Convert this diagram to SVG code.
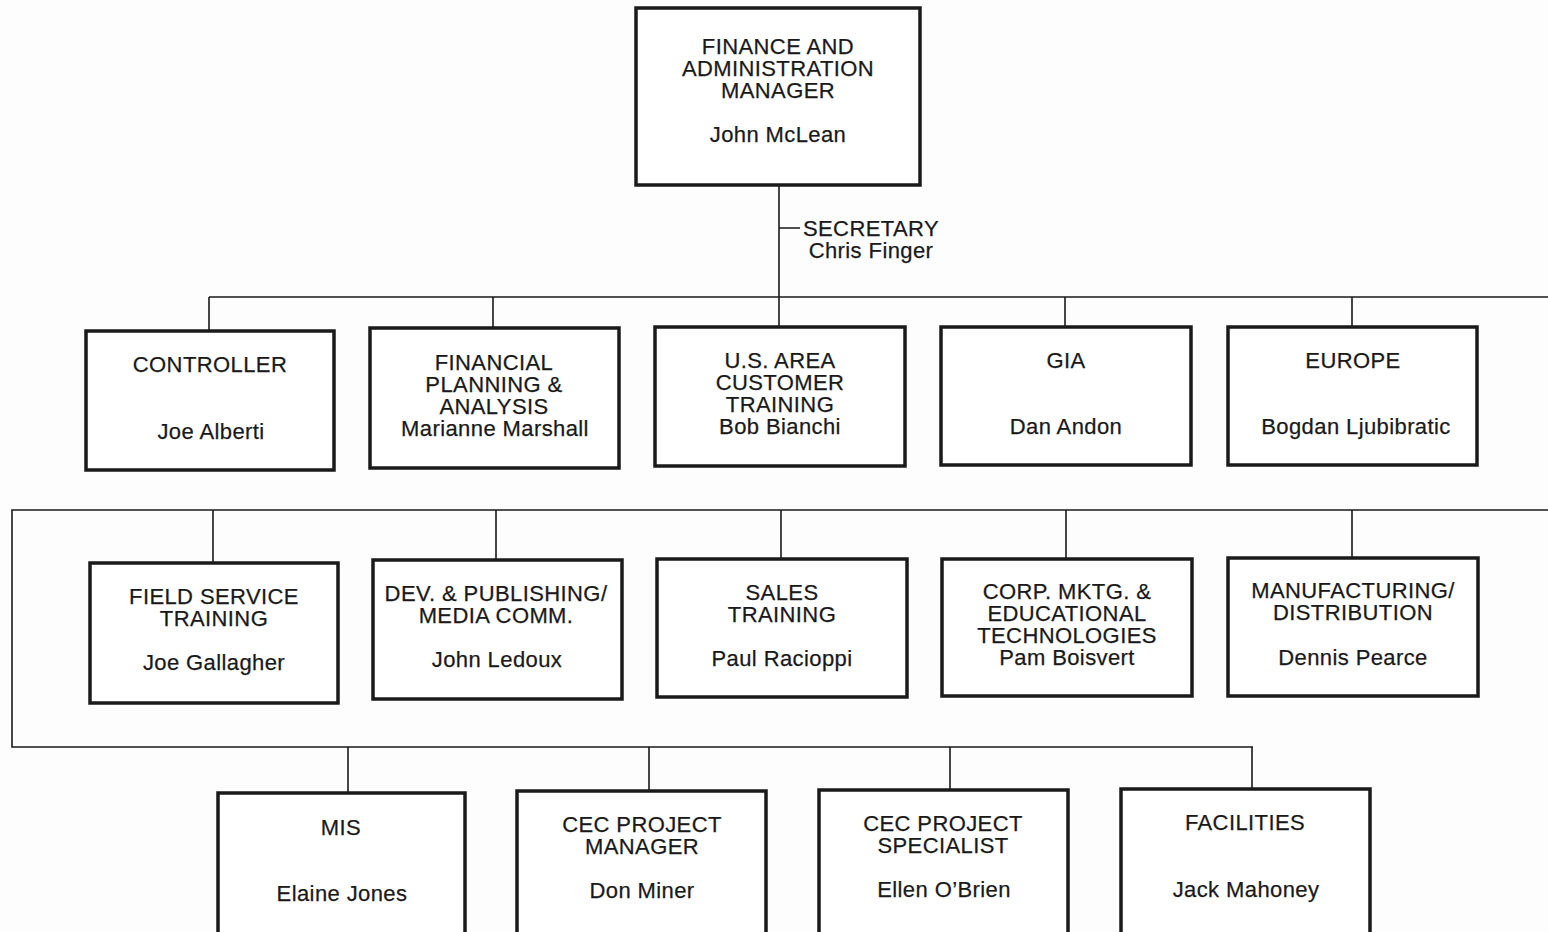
<svg xmlns="http://www.w3.org/2000/svg" width="1548" height="932" viewBox="0 0 1548 932">
<style>
.box{fill:#fff;stroke:#1a1a1a;stroke-width:3.5}
.ln{fill:none;stroke:#1a1a1a;stroke-width:1.6}
text{font-family:"Liberation Sans",Arial,sans-serif;font-size:22px;fill:#1a1a1a;stroke:#1a1a1a;stroke-width:0.25;text-anchor:middle;letter-spacing:0.4px}
</style>
<rect width="1548" height="932" fill="#fdfdfd"/>
<g id="connectors">
<path class="ln" d="M779 185V297 M779 228H800"/>
<path class="ln" d="M209 297H1548 M209 297V331 M493 297V328 M779 297V327 M1065 297V327 M1352 297V327"/>
<path class="ln" d="M1548 510H12V747H1253 M213 510V563 M496 510V560 M781 510V559 M1066 510V559 M1352 510V558"/>
<path class="ln" d="M348 747V793 M649 747V791 M950 747V790 M1252 747V789"/>
</g>
<g id="n-manager"><rect class="box" x="636" y="8" width="284" height="177"/>
<text x="778" y="54">FINANCE AND</text><text x="778" y="76">ADMINISTRATION</text><text x="778" y="98">MANAGER</text><text x="778" y="142">John McLean</text></g>
<g id="n-secretary"><text x="871" y="236">SECRETARY</text><text x="871" y="258">Chris Finger</text></g>
<g id="n-controller"><rect class="box" x="86" y="331" width="248" height="139"/>
<text x="210" y="372">CONTROLLER</text><text x="211" y="439">Joe Alberti</text></g>
<g id="n-fpa"><rect class="box" x="370" y="328" width="249" height="140"/>
<text x="494" y="370">FINANCIAL</text><text x="494" y="392">PLANNING &amp;</text><text x="494" y="414">ANALYSIS</text><text x="495" y="436">Marianne Marshall</text></g>
<g id="n-usarea"><rect class="box" x="655" y="327" width="250" height="139"/>
<text x="780" y="368">U.S. AREA</text><text x="780" y="390">CUSTOMER</text><text x="780" y="412">TRAINING</text><text x="780" y="434">Bob Bianchi</text></g>
<g id="n-gia"><rect class="box" x="941" y="327" width="250" height="138"/>
<text x="1066" y="368">GIA</text><text x="1066" y="434">Dan Andon</text></g>
<g id="n-europe"><rect class="box" x="1228" y="327" width="249" height="138"/>
<text x="1353" y="368">EUROPE</text><text x="1356" y="434">Bogdan Ljubibratic</text></g>
<g id="n-fieldservice"><rect class="box" x="90" y="563" width="248" height="140"/>
<text x="214" y="604">FIELD SERVICE</text><text x="214" y="626">TRAINING</text><text x="214" y="670">Joe Gallagher</text></g>
<g id="n-dev"><rect class="box" x="373" y="560" width="249" height="139"/>
<text x="496" y="601">DEV. &amp; PUBLISHING/</text><text x="496" y="623">MEDIA COMM.</text><text x="497" y="667">John Ledoux</text></g>
<g id="n-sales"><rect class="box" x="657" y="559" width="250" height="138"/>
<text x="782" y="600">SALES</text><text x="782" y="622">TRAINING</text><text x="782" y="666">Paul Racioppi</text></g>
<g id="n-corp"><rect class="box" x="942" y="559" width="250" height="137"/>
<text x="1067" y="599">CORP. MKTG. &amp;</text><text x="1067" y="621">EDUCATIONAL</text><text x="1067" y="643">TECHNOLOGIES</text><text x="1067" y="665">Pam Boisvert</text></g>
<g id="n-manuf"><rect class="box" x="1228" y="558" width="250" height="138"/>
<text x="1353" y="598">MANUFACTURING/</text><text x="1353" y="620">DISTRIBUTION</text><text x="1353" y="665">Dennis Pearce</text></g>
<g id="n-mis"><rect class="box" x="218" y="793" width="247" height="150"/>
<text x="341" y="835">MIS</text><text x="342" y="901">Elaine Jones</text></g>
<g id="n-cecpm"><rect class="box" x="517" y="791" width="249" height="150"/>
<text x="642" y="832">CEC PROJECT</text><text x="642" y="854">MANAGER</text><text x="642" y="898">Don Miner</text></g>
<g id="n-cecps"><rect class="box" x="819" y="790" width="249" height="150"/>
<text x="943" y="831">CEC PROJECT</text><text x="943" y="853">SPECIALIST</text><text x="944" y="897">Ellen O’Brien</text></g>
<g id="n-facilities"><rect class="box" x="1121" y="789" width="249" height="150"/>
<text x="1245" y="830">FACILITIES</text><text x="1246" y="897">Jack Mahoney</text></g>
</svg>
